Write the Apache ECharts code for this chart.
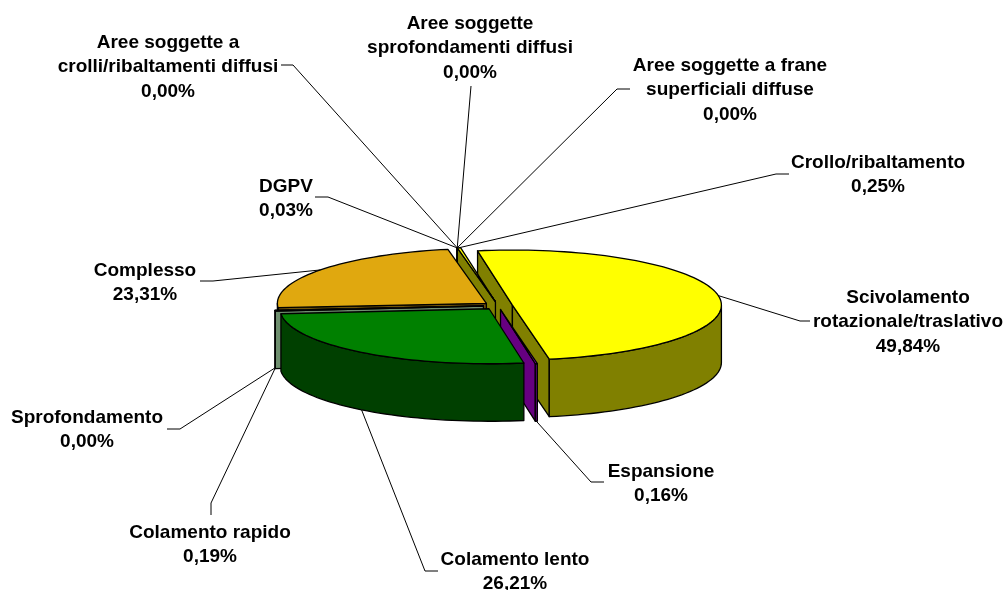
<!DOCTYPE html>
<html>
<head>
<meta charset="utf-8">
<title>Tipologie di movimento</title>
<script src="https://cdn.jsdelivr.net/npm/echarts@6/dist/echarts.min.js"></script>
<style>
html,body{margin:0;padding:0;background:#fff;}
#main{width:1007px;height:590px;}
</style>
</head>
<body>
<div id="main"></div>
<script>
//dati del grafico, in senso orario a partire dalla fetta gialla
var categories = ['Scivolamento\nrotazionale/traslativo','Espansione','Colamento lento','Colamento rapido','Sprofondamento','Complesso','DGPV','Aree soggette a\ncrolli/ribaltamenti diffusi','Aree soggette\nsprofondamenti diffusi','Aree soggette a frane\nsuperficiali diffuse','Crollo/ribaltamento'];
var values = [49.84,0.16,26.21,0.19,0,23.31,0.03,0,0,0,0.25];

//colori: faccia superiore e parete
var topColors = ['#FFFF00','#CC00FF','#008000','#A0C0A0','#808080','#E0A80F','#808000','#808000','#808000','#808000','#FFFF00'];
var sideColors = ['#808000','#660080','#004000','#6F8F6F','#404040','#705408','#808000','#808000','#808000','#808000','#808000'];

//ordine di disegno, dal fondo verso il davanti
var drawOrder = [0,9,8,7,6,10,5,4,1,3,2];

//geometria della torta
var cx = 498, cy = 305.7, rx = 209, ry = 55, depth = 57.5, explode = 0.07, startAngle = 260.4;

//posizione etichette [x centro, y centro] e spezzata della linea guida
var labelPos = [[908,322],[661,484],[515,572],[210,545],[87,430],[145,283],[286,199],[168,67],[470,48],[730,90],[878,175]];
var leaderBends = [
	[[800,321],[810,321]],
	[[591,482],[604,482]],
	[[425,571],[438,571]],
	[[211,503],[211,515]],
	[[180,429],[167,429]],
	[[213,281],[200,281]],
	[[328,197],[315,197]],
	[[293,65],[281,65]],
	[[471,86]],
	[[617,89],[630,89]],
	[[776,174],[789,174]]
];

var total = 0;
values.forEach(function(v){ total += v; });

var slices = [];
var acc = startAngle;
values.forEach(function(v){
	var sweep = v / total * 360;
	var mid = (acc + sweep / 2) * Math.PI / 180;
	slices.push({
		from: acc,
		to: acc + sweep,
		mid: acc + sweep / 2,
		x: cx + explode * rx * Math.cos(mid),
		y: cy + explode * ry * Math.sin(mid)
	});
	acc += sweep;
});

function rimPoint(s, deg, dy){
	var a = deg * Math.PI / 180;
	return [s.x + rx * Math.cos(a), s.y + ry * Math.sin(a) + (dy || 0)];
}

function arcPoints(s, from, to, dy){
	var pts = [];
	var steps = Math.max(1, Math.ceil((to - from) / 2));
	for(var i = 0; i <= steps; i++){
		pts.push(rimPoint(s, from + (to - from) * i / steps, dy));
	}
	return pts;
}

function poly(points, fill){
	return {
		type: 'polygon',
		shape: {points: points},
		style: {fill: fill, stroke: '#000', lineWidth: 1.3, lineJoin: 'round'}
	};
}

//parete piana dal centro al bordo, solo se rivolta verso chi guarda
function cutWall(s, deg, sign, fill){
	var a = deg * Math.PI / 180;
	if(-sign * Math.cos(a) <= 0) return null;
	var p = rimPoint(s, deg);
	return poly([[s.x, s.y], p, [p[0], p[1] + depth], [s.x, s.y + depth]], fill);
}

function renderSlice(params, api){
	var idx = api.value(1);
	var s = slices[idx];
	var side = sideColors[idx];
	var children = [];

	var w1 = cutWall(s, s.from, 1, side);
	var w2 = cutWall(s, s.to, -1, side);
	if(w1) children.push(w1);
	if(w2) children.push(w2);

	//parete esterna, solo la parte anteriore
	[[0,180],[360,540]].forEach(function(r){
		var a = Math.max(s.from, r[0]);
		var b = Math.min(s.to, r[1]);
		if(b > a){
			var top = arcPoints(s, a, b, 0);
			var bottom = arcPoints(s, a, b, depth).reverse();
			children.push(poly(top.concat(bottom), side));
		}
	});

	//faccia superiore
	var face = [[s.x, s.y]].concat(arcPoints(s, s.from, s.to, 0));
	children.push(poly(face, topColors[idx]));

	return {type: 'group', children: children};
}

function renderLabel(params, api){
	var idx = api.value(1);
	var s = slices[idx];
	var a = s.mid * Math.PI / 180;
	var start = rimPoint(s, s.mid, Math.sin(a) > 0 ? depth : 0);
	var pos = labelPos[idx];
	return {
		type: 'group',
		children: [{
			type: 'polyline',
			shape: {points: [start].concat(leaderBends[idx])},
			style: {fill: null, stroke: '#000', lineWidth: 1}
		},{
			type: 'text',
			x: pos[0],
			y: pos[1],
			style: {
				text: categories[idx] + '\n' + api.value(0).toFixed(2).replace('.', ',') + '%',
				fill: '#000',
				font: 'bold 19px "Liberation Sans", Arial, sans-serif',
				lineHeight: 24.5,
				align: 'center',
				verticalAlign: 'middle'
			}
		}]
	};
}

var myChart = echarts.init(document.getElementById('main'));

var sliceData = drawOrder.map(function(i){ return [values[i], i]; });
var labelData = values.map(function(v, i){ return [v, i]; });

var option = {
	backgroundColor: '#fff',
	animation: false,
	series: [{
		type: 'custom',
		coordinateSystem: 'none',
		renderItem: renderSlice,
		data: sliceData,
		silent: true
	},{
		type: 'custom',
		coordinateSystem: 'none',
		renderItem: renderLabel,
		data: labelData,
		silent: true
	}]
};
myChart.setOption(option);
</script>
</body>
</html>
